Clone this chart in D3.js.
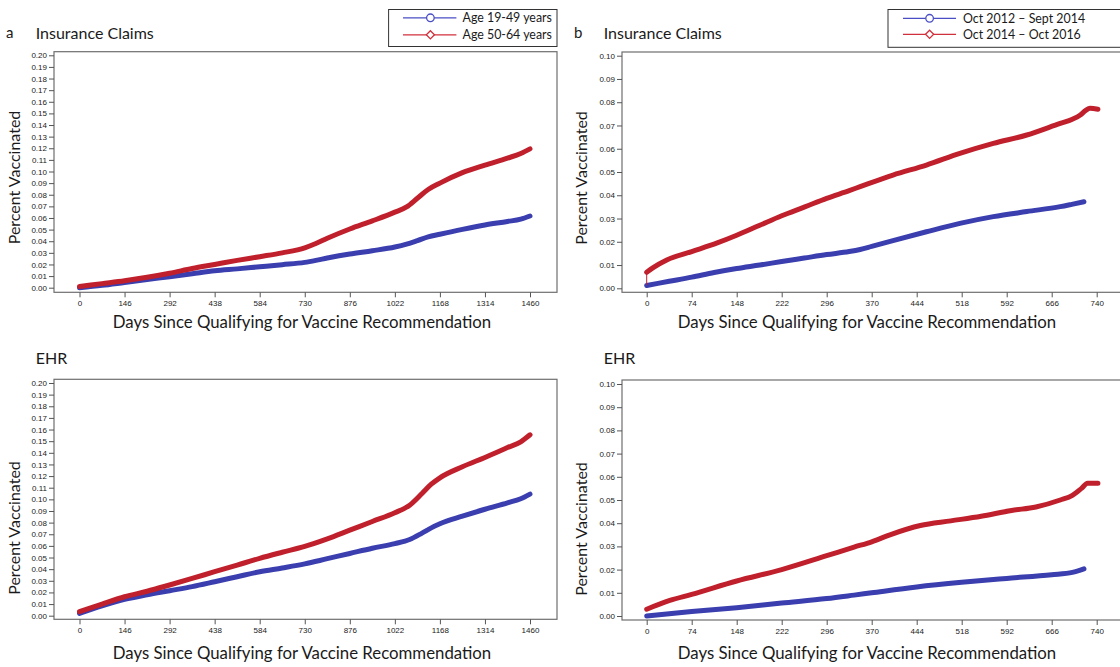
<!DOCTYPE html>
<html><head><meta charset="utf-8">
<script src="https://cdn.jsdelivr.net/npm/d3@7"></script>
<style>
html,body{margin:0;padding:0;background:#fff;}
svg{display:block;}
text{font-family:Lato,"Open Sans",sans-serif;fill:#1a1a1a;}
.tick text{font-family:"Liberation Sans",Arial,sans-serif;font-size:8px;fill:#222;}
</style></head><body>
<svg id="c" width="1120" height="667"></svg>
<script>
// ---------- tick labels ----------
const xTicksA = [0,146,292,438,584,730,876,1022,1168,1314,1460];
const xTicksB = [0,74,148,222,296,370,444,518,592,666,740];
const yTicksA = [0,0.01,0.02,0.03,0.04,0.05,0.06,0.07,0.08,0.09,0.10,0.11,0.12,0.13,0.14,0.15,0.16,0.17,0.18,0.19,0.20];
const yTicksB = [0,0.01,0.02,0.03,0.04,0.05,0.06,0.07,0.08,0.09,0.10];

// ---------- legend labels ----------
const legendA = ["Age 19-49 years","Age 50-64 years"];
const legendB = ["Oct 2012 \u2013 Sept 2014","Oct 2014 \u2013 Oct 2016"];

// ---------- panel a : insurance claims ----------
const daysAClaims   = [0,73,146,219,292,365,438,511,584,657,730,766,803,876,949,1022,1060,1095,1130,1168,1241,1314,1387,1430,1460];
const age1949Claims = [0.000,0.002,0.0045,0.007,0.0095,0.012,0.0145,0.0162,0.018,0.0198,0.0218,0.0235,0.0255,0.029,0.0318,0.035,0.0375,0.0405,0.0437,0.046,0.0502,0.054,0.057,0.059,0.0617];
const age5064Claims = [0.001,0.0035,0.006,0.009,0.0125,0.0165,0.020,0.0235,0.0267,0.030,0.0343,0.038,0.0425,0.0505,0.0575,0.065,0.0695,0.077,0.0845,0.0900,0.0990,0.1055,0.1115,0.1155,0.1195];

// ---------- panel a : EHR ----------
const daysAEhr   = [0,73,146,219,292,365,438,511,584,657,730,803,876,949,1022,1070,1110,1140,1168,1241,1314,1387,1430,1460];
const age1949Ehr = [0.002,0.0085,0.014,0.018,0.0215,0.025,0.0292,0.0335,0.0378,0.041,0.0445,0.049,0.0535,0.058,0.062,0.0655,0.071,0.0755,0.079,0.0855,0.0915,0.097,0.1005,0.1045];
const age5064Ehr = [0.0035,0.010,0.0163,0.021,0.0264,0.032,0.0378,0.0435,0.0493,0.0545,0.0595,0.066,0.0735,0.081,0.0885,0.095,0.105,0.113,0.1185,0.128,0.136,0.1445,0.1495,0.1555];

// ---------- panel b : insurance claims ----------
const daysBClaimsEarly = [0,37,74,111,148,186,222,259,296,333,351,370,405,460,515,570,625,680,699,719];
const periodEarlyClaims = [0.0012,0.003,0.0048,0.0068,0.0085,0.010,0.0115,0.013,0.0145,0.0158,0.0167,0.0180,0.0205,0.0243,0.0279,0.0308,0.033,0.0351,0.0361,0.0372];
const daysBClaimsLate = [0,0,10,33,74,116,148,185,222,260,296,333,351,405,460,515,570,625,680,700,713,722,729,742];
const periodLateClaims = [0.0014,0.0069,0.0088,0.0122,0.0158,0.0195,0.0228,0.027,0.0312,0.035,0.0387,0.042,0.0437,0.0487,0.053,0.058,0.0623,0.0659,0.0709,0.0727,0.0745,0.0765,0.0774,0.0770];

// ---------- panel b : EHR ----------
const daysBEhrEarly = [0,74,148,222,296,341,370,444,518,592,666,700,719];
const periodEarlyEhr = [0.000,0.0019,0.0036,0.0056,0.0075,0.009,0.010,0.0125,0.0145,0.0162,0.0178,0.0188,0.0203];
const daysBEhrLate = [0,38,74,148,222,296,341,370,400,450,500,550,600,640,680,700,715,725,742];
const periodLateEhr = [0.0029,0.0067,0.0093,0.0151,0.020,0.026,0.0297,0.032,0.035,0.039,0.041,0.043,0.0455,0.047,0.050,0.052,0.055,0.0572,0.0572];

const BLUE = "#3a3eae", RED = "#c01f2c";
const svg = d3.select("#c");

const panels = [
  {letter:"a", title:"Insurance Claims", fr:{l:54,r:557,t:51.7,b:292.3}, xr:[79.5,530], xd:[0,1460], xt:xTicksA,
   yr:[287.7,55.3], yd:[0,0.2], yt:yTicksA, titleY:33, ylabX:14, ylabY:177.5, xlabY:322, xlabX:302,
   series:[{d:daysAClaims,v:age1949Claims,c:BLUE,s:0},{d:daysAClaims,v:age5064Claims,c:RED,s:0}]},
  {letter:"", title:"EHR", fr:{l:54,r:557,t:379.3,b:619.3}, xr:[79.5,530], xd:[0,1460], xt:xTicksA,
   yr:[615.7,383], yd:[0,0.2], yt:yTicksA, titleY:358, ylabX:14, ylabY:528, xlabY:653, xlabX:302,
   series:[{d:daysAEhr,v:age1949Ehr,c:BLUE,s:0},{d:daysAEhr,v:age5064Ehr,c:RED,s:0}]},
  {letter:"b", title:"Insurance Claims", fr:{l:622,r:1124,t:52,b:292.3}, xr:[646.7,1096.7], xd:[0,740], xt:xTicksB,
   yr:[288.3,55.7], yd:[0,0.1], yt:yTicksB, titleY:33, ylabX:581.7, ylabY:178, xlabY:322, xlabX:867,
   series:[{d:daysBClaimsEarly,v:periodEarlyClaims,c:BLUE,s:0},{d:daysBClaimsLate,v:periodLateClaims,c:RED,s:1}]},
  {letter:"", title:"EHR", fr:{l:622,r:1124,t:380,b:620}, xr:[646.7,1096.7], xd:[0,740], xt:xTicksB,
   yr:[616,384], yd:[0,0.1], yt:yTicksB, titleY:358, ylabX:581.7, ylabY:529, xlabY:653, xlabX:867,
   series:[{d:daysBEhrEarly,v:periodEarlyEhr,c:BLUE,s:0},{d:daysBEhrLate,v:periodLateEhr,c:RED,s:0}]}
];

panels.forEach(p => {
  const x = d3.scaleLinear().domain(p.xd).range(p.xr);
  const y = d3.scaleLinear().domain(p.yd).range(p.yr);
  const g = svg.append("g");
  const f = p.fr;
  g.append("rect").attr("x",f.l).attr("y",f.t).attr("width",f.r-f.l).attr("height",f.b-f.t)
    .attr("fill","none").attr("stroke","#6e6e6e").attr("stroke-width",1.2);
  const ax = g.append("g").attr("transform",`translate(0,${f.b})`)
    .call(d3.axisBottom(x).tickValues(p.xt).tickFormat(d3.format("d")).tickSize(5).tickPadding(3));
  const ay = g.append("g").attr("transform",`translate(${f.l},0)`)
    .call(d3.axisLeft(y).tickValues(p.yt).tickFormat(d3.format(".2f")).tickSize(5).tickPadding(2));
  [ax,ay].forEach(a => { a.select(".domain").remove(); a.selectAll(".tick line").attr("stroke","#555"); });
  const lineThin = d3.line().x(d=>x(d[0])).y(d=>y(d[1]));
  const lineThick = d3.line().x(d=>x(d[0])).y(d=>y(d[1])).curve(d3.curveMonotoneX);
  p.series.forEach(s => {
    const pts = s.d.map((d,i)=>[d,s.v[i]]);
    g.append("path").attr("d",lineThin(pts)).attr("fill","none").attr("stroke",s.c).attr("stroke-width",1);
    g.append("path").attr("d",lineThick(pts.slice(s.s))).attr("fill","none").attr("stroke",s.c)
      .attr("stroke-width",5).attr("stroke-linecap","round").attr("stroke-linejoin","round");
  });
  if (p.letter) g.append("text").attr("x",f.l-48).attr("y",p.titleY).attr("dy","0.35em")
      .attr("font-size",15).text(p.letter);
  g.append("text").attr("x",f.l-18.3).attr("y",p.titleY).attr("dy","0.35em").attr("font-size",16).text(p.title);
  g.append("text").attr("transform",`translate(${p.ylabX},${p.ylabY}) rotate(-90)`).attr("text-anchor","middle")
    .attr("dy","0.35em").attr("font-size",16).text("Percent Vaccinated");
  g.append("text").attr("x",p.xlabX).attr("y",p.xlabY).attr("dy","0.35em").attr("text-anchor","middle")
    .attr("font-size",16.8).text("Days Since Qualifying for Vaccine Recommendation");
});

function legend(box, lineX, markX, textX, rowsY, labels) {
  const g = svg.append("g");
  g.append("rect").attr("x",box[0]).attr("y",box[1]).attr("width",box[2]-box[0]).attr("height",box[3]-box[1])
    .attr("fill","#fff").attr("stroke","#333").attr("stroke-width",1);
  const cols = ["#4a4ec4","#d0303c"];
  labels.forEach((lab,i) => {
    const yy = rowsY[i];
    g.append("line").attr("x1",lineX[0]).attr("x2",lineX[1]).attr("y1",yy).attr("y2",yy)
      .attr("stroke",cols[i]).attr("stroke-width",1.2);
    if (i===0) g.append("circle").attr("cx",markX).attr("cy",yy).attr("r",3.8).attr("fill","#fff").attr("stroke",cols[i]).attr("stroke-width",1.3);
    else g.append("path").attr("d",d3.symbol(d3.symbolDiamond2,42)()).attr("transform",`translate(${markX},${yy})`)
      .attr("fill","#fff").attr("stroke",cols[i]).attr("stroke-width",1.3);
    g.append("text").attr("x",textX).attr("y",yy).attr("dy","0.35em").attr("font-size",12.4).text(lab);
  });
}
legend([388.6,9.5,557,46.5],[403,456.4],430.4,462.5,[17.8,34.8],legendA);
legend([888,9.5,1126,47.3],[903,956],929.6,963,[18.3,34.3],legendB);
</script></body></html>
